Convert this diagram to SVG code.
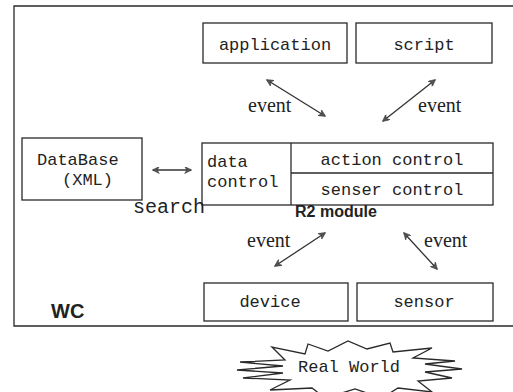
<svg xmlns="http://www.w3.org/2000/svg" width="513" height="392" viewBox="0 0 513 392">
<defs>
<style>
.box{fill:none;stroke:#2a2a2a;stroke-width:1.3}
.mono{font-family:"Liberation Mono","Courier New",monospace;font-size:17px;fill:#222}
.serif{font-family:"Liberation Serif","Times New Roman",serif;font-size:20px;fill:#222}
.bold{font-family:"Liberation Sans",Arial,sans-serif;font-weight:bold;fill:#222}
.conn{stroke:#333;stroke-width:1.3;fill:none;marker-start:url(#ah);marker-end:url(#ah)}
</style>
<marker id="ah" viewBox="0 0 10 10" refX="9" refY="5" markerWidth="9" markerHeight="7" markerUnits="userSpaceOnUse" orient="auto-start-reverse">
<path d="M0,0 L10,5 L0,10 L3,5 Z" fill="#555" stroke="#333" stroke-width="0.8"/>
</marker>
</defs>
<rect width="513" height="392" fill="#fff"/>
<g id="wc">
<path class="box" d="M520,6 L14,6 L14,326 L520,326"/>
<text class="bold" x="51" y="318" font-size="20">WC</text>
</g>
<g id="application">
<rect class="box" x="203" y="23" width="144" height="40"/>
<text class="mono" x="275" y="50" text-anchor="middle">application</text>
</g>
<g id="script">
<rect class="box" x="356" y="23" width="136" height="40"/>
<text class="mono" x="424" y="50" text-anchor="middle">script</text>
</g>
<g id="database">
<rect class="box" x="22" y="138" width="120" height="62"/>
<text class="mono" x="37" y="165">DataBase</text>
<text class="mono" x="62" y="185">(XML)</text>
</g>
<g id="r2module">
<rect class="box" x="202" y="143" width="291" height="62"/>
<line class="box" x1="291" y1="143" x2="291" y2="205"/>
<line class="box" x1="291" y1="173" x2="493" y2="173"/>
<text class="mono" x="207" y="167">data</text>
<text class="mono" x="207" y="187">control</text>
<text class="mono" x="392" y="165" text-anchor="middle">action control</text>
<text class="mono" x="392" y="195" text-anchor="middle">senser control</text>
<text class="bold" x="295" y="217" font-size="16">R2 module</text>
</g>
<g id="device">
<rect class="box" x="204" y="283" width="144" height="38"/>
<text class="mono" x="270" y="307" text-anchor="middle">device</text>
</g>
<g id="sensor">
<rect class="box" x="357" y="283" width="136" height="38"/>
<text class="mono" x="424" y="307" text-anchor="middle">sensor</text>
</g>
<g id="realworld">
<polygon class="box" points="285,360 272,347 305,354 308,344 328,351 348,341 367,349 390,343 393,352 432,348 413,358 455,361 425,364 462,369 425,372 452,378 418,381 432,392 398,388 382,398 355,389 325,398 312,388 270,390 290,380 243,378 283,373 237,370 283,366 240,362"/>
<text class="mono" x="349" y="372" text-anchor="middle">Real World</text>
</g>
<g id="connectors">
<line class="conn" x1="267" y1="80" x2="325" y2="116"/>
<line class="conn" x1="435" y1="80" x2="383" y2="121"/>
<line class="conn" x1="153" y1="170" x2="191" y2="170"/>
<line class="conn" x1="325" y1="233" x2="275" y2="266"/>
<line class="conn" x1="404" y1="233" x2="437" y2="269"/>
<text class="serif" x="248" y="112">event</text>
<text class="serif" x="418" y="112">event</text>
<text class="mono" x="133" y="213" style="font-size:20px">search</text>
<text class="serif" x="247" y="247">event</text>
<text class="serif" x="424" y="247">event</text>
</g>
</svg>
